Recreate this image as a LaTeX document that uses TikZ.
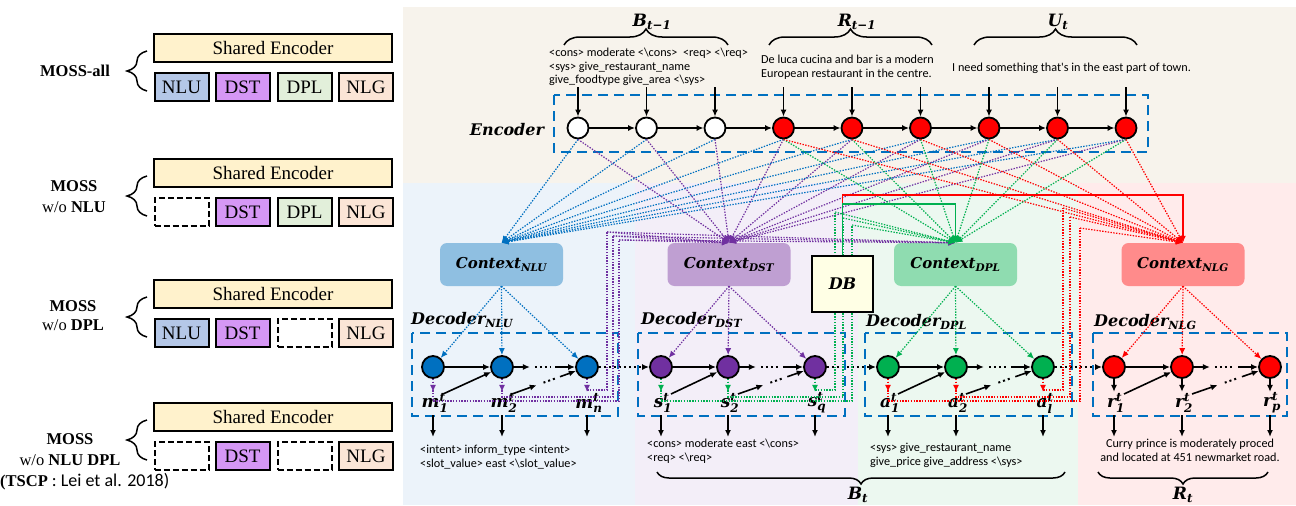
\RequirePackage{fix-cm}
\documentclass[tikz,border=0pt]{standalone}
\usepackage{amsmath}
\usepackage{fontspec}
\setmainfont{Liberation Serif}
\newfontfamily\smallsans{Carlito}
\newfontfamily\heavyserif{DejaVu Serif}
\newcommand\bi[1]{\text{\heavyserif\bfseries\itshape #1}}
\usetikzlibrary{arrows.meta,decorations.pathreplacing,calc}

\definecolor{encblue}{HTML}{0070C0}
\definecolor{dstpurple}{HTML}{7030A0}
\definecolor{dplgreen}{HTML}{00B050}
\definecolor{nlgred}{HTML}{FF0000}
\definecolor{shyellow}{HTML}{FFF2CC}
\definecolor{nlufill}{HTML}{B4C7E7}
\definecolor{dstfill}{HTML}{D597F5}
\definecolor{dplfill}{HTML}{E2EFDA}
\definecolor{nlgfill}{HTML}{FBE5D6}
\definecolor{bgtop}{HTML}{F7F3EC}
\definecolor{bgnlu}{HTML}{ECF3FA}
\definecolor{bgdst}{HTML}{F3EEF8}
\definecolor{bgdpl}{HTML}{ECF8F0}
\definecolor{bgnlg}{HTML}{FFEBEB}
\definecolor{ctxnlu}{HTML}{8FBFE1}
\definecolor{ctxdst}{HTML}{BF9FD2}
\definecolor{ctxdpl}{HTML}{8FDCB0}
\definecolor{ctxnlg}{HTML}{FF8B8B}
\definecolor{dbfill}{HTML}{FFFFE5}

\begin{document}
\begin{tikzpicture}[x=1pt,y=-1pt,
    modbox/.style={draw,line width=2pt,minimum width=54pt,minimum height=28pt,inner sep=0pt,font=\fontsize{19}{22}\selectfont},
    nlubox/.style={modbox,fill=nlufill},
    dplbox/.style={modbox,fill=dplfill},
    emptybox/.style={modbox,dash pattern=on 6pt off 3pt},
    encbox/.style={modbox,minimum width=238pt,fill=shyellow},
    enc/.style={circle,draw,line width=1.8pt,minimum size=21pt,inner sep=0pt},
    dec/.style={circle,draw,line width=1.8pt,minimum size=22pt,inner sep=0pt},
    ctx/.style={rounded corners=7pt,minimum width=123pt,minimum height=43pt,font=\fontsize{15}{18}\selectfont},
    mathlab/.style={font=\fontsize{16}{19}\selectfont,inner sep=1pt},
    outlab/.style={font=\fontsize{17}{20}\selectfont,inner sep=1pt},
    frame/.style={draw=encblue,line width=2.3pt,dash pattern=on 10pt off 6pt},
    link/.style={line width=1.2pt,dash pattern=on 1.4pt off 1.4pt,-{Latex[length=7pt,width=6pt]}},
    route/.style={line width=1.2pt,dash pattern=on 1.4pt off 1.4pt},
    flow/.style={line width=1.6pt,-{Latex[length=7pt,width=6pt]}},
    hop/.style={line width=2pt,dash pattern=on 2pt off 3pt,-{Latex[length=7pt,width=6pt]}},
    outnlu/.style={link,dstpurple},
    outdst/.style={link,dplgreen},
    outdpl/.style={link,nlgred},
    outnlg/.style={flow},
    note/.style={font=\smallsans\fontsize{12.2}{13.8}\selectfont,align=left,inner sep=0pt},
    lbrace/.style={decorate,decoration={brace,amplitude=#1},line width=1.5pt},
  ]
  \useasboundingbox (0,0) rectangle (1296,506);

  % backgrounds
  \fill[bgtop] (403,7) rectangle (1296,183);
  \fill[bgnlu] (403,183) rectangle (635,505);
  \fill[bgdst] (635,183) rectangle (858,505);
  \fill[bgdpl] (858,183) rectangle (1078,505);
  \fill[bgnlg] (1078,183) rectangle (1296,505);

  % left panel: the four variants
  \foreach \i/\yt/\ua/\ta/\pa/\tp in {1/33/nlubox/NLU/dplbox/DPL, 2/158/emptybox/{}/dplbox/DPL, 3/279/nlubox/NLU/emptybox/{}, 4/402/emptybox/{}/emptybox/{}} {
    \node[encbox] (shared\i) at (273,\yt+15) {Shared Encoder};
    \node[\ua] (nlu\i) at (181.5,\yt+54) {\ta};
    \node[modbox,fill=dstfill] (dst\i) at (242.5,\yt+54) {DST};
    \node[\pa] (dpl\i) at (304.5,\yt+54) {\tp};
    \node[modbox,fill=nlgfill] (nlg\i) at (366,\yt+54) {NLG};
    \draw[lbrace=20pt] (147,\yt+58) -- (147,\yt+18);
  }
  \node[font=\bfseries\fontsize{16.5}{19}\selectfont] (name1) at (75,71) {MOSS-all};
  \node[align=center,font=\fontsize{16.5}{21}\selectfont] (name2) at (74,197) {\textbf{MOSS}\\w/o \textbf{NLU}};
  \node[align=center,font=\fontsize{16.5}{19}\selectfont] (name3) at (73,316) {\textbf{MOSS}\\w/o \textbf{DPL}};
  \node[align=center,font=\fontsize{16.5}{21}\selectfont] (name4) at (70,450) {\textbf{MOSS}\\w/o \textbf{NLU DPL}};
  \node[anchor=west,inner sep=0pt,font=\fontsize{16.5}{19}\selectfont] (tscp) at (0,482) {\textbf{(TSCP} {\smallsans\fontsize{18}{20}\selectfont : Lei et al. 2018)}};

  % encoder
  \draw[frame] (554,95) rectangle (1148,152);
  \node[mathlab] (enclab) at (507,130) {$\bi{Encoder}$};
  \foreach \i in {1,...,9} {
    \pgfmathsetmacro\ex{578+68.5*(\i-1)}
    \ifnum\i<4 \def\ef{white}\else\def\ef{red}\fi
    \coordinate (in\i) at (\ex,87);
    \node[enc,fill=\ef] (e\i) at (\ex,128) {};
  }

  % encoder inputs
  \draw[lbrace=16pt] (564,45) -- (728,45);
  \node[outlab] (bprev) at (652,22) {$\bi{B}_{\bi{t−1}}$};
  \draw[lbrace=16pt] (769,45) -- (932,45);
  \node[outlab] (rprev) at (857,22) {$\bi{R}_{\bi{t−1}}$};
  \draw[lbrace=16pt] (974,45) -- (1137,45);
  \node[outlab] (ucur) at (1058,22) {$\bi{U}_{\bi{t}}$};
  \node[note,anchor=west] (btext) at (549,67) {<cons> moderate <\textbackslash cons>\ \ <req> <\textbackslash req>\\<sys> give\_restaurant\_name\\give\_foodtype give\_area <\textbackslash sys>};
  \node[note,anchor=west] (rtext) at (761,67.5) {De luca cucina and bar is a modern\\European restaurant in the centre.};
  \node[note,anchor=west] (utext) at (952,68) {I need something that's in the east part of town.};

  % context boxes
  \node[ctx,fill=ctxnlu] (cnlu) at (501.5,264.5) {$\bi{Context}_{\bi{NLU}}$};
  \node[ctx,fill=ctxdst] (cdst) at (729,264.5) {$\bi{Context}_{\bi{DST}}$};
  \node[ctx,fill=ctxdpl] (cdpl) at (955.5,264.5) {$\bi{Context}_{\bi{DPL}}$};
  \node[ctx,fill=ctxnlg] (cnlg) at (1183,264.5) {$\bi{Context}_{\bi{NLG}}$};

  % encoder -> contexts
  \foreach \i in {1,...,9} {
    \draw[link,encblue] (e\i.south) -- (cnlu.north);
    \draw[link,dstpurple] (e\i.south) -- (cdst.north);
  }
  \foreach \i in {4,...,9} {
    \draw[link,dplgreen] (e\i.south) -- (cdpl.north);
    \draw[link,nlgred] (e\i.south) -- (cnlg.north);
  }
  \foreach \i in {1,...,9} {
    \draw[flow] (in\i) -- (e\i);
  }
  \foreach \i [count=\j from 2] in {1,...,8} {
    \draw[flow] (e\i) -- (e\j);
  }

  % decoders
  \draw[frame] (412,333) rectangle (618,416);
  \draw[frame] (638,333) rectangle (845,416);
  \draw[frame] (865,333) rectangle (1072,416);
  \draw[frame] (1093,333) rectangle (1287,416);
  \node[mathlab,anchor=west] (dlnlu) at (410,320) {$\bi{Decoder}_{\bi{NLU}}$};
  \node[mathlab,anchor=west] (dldst) at (640,320) {$\bi{Decoder}_{\bi{DST}}$};
  \node[mathlab,anchor=west] (dldpl) at (865,322) {$\bi{Decoder}_{\bi{DPL}}$};
  \node[mathlab,anchor=west] (dlnlg) at (1093,322) {$\bi{Decoder}_{\bi{NLG}}$};

  \foreach \k/\xa/\xb/\xc/\col/\sym/\last in {nlu/433/502/587/encblue/m/n, dst/661/728/815/dstpurple/s/q, dpl/888/956/1043/dplgreen/a/l, nlg/1114/1182/1270/nlgred/r/p} {
    \node[dec,fill=\col] (\k1) at (\xa,367) {};
    \node[dec,fill=\col] (\k2) at (\xb,367) {};
    \node[dec,fill=\col] (\k3) at (\xc,367) {};
    \draw[link,\col] (c\k.south) -- (\k1);
    \draw[link,\col] (c\k.south) -- (\k2);
    \draw[link,\col] (c\k.south) -- (\k3);
    \draw[out\k] (\k1.south) -- ++(0,13);
    \draw[out\k] (\k2.south) -- ++(0,13);
    \draw[out\k] (\k3.south) -- ++(0,13);
    \node[outlab] (\k o1) at (\xa+2,403) {$\bi{\sym}^{\bi{t}}_{\bi{1}}$};
    \node[outlab] (\k o2) at (\xb+2,403) {$\bi{\sym}^{\bi{t}}_{\bi{2}}$};
    \node[outlab] (\k o3) at (\xc+2,403) {$\bi{\sym}^{\bi{t}}_{\bi{\last}}$};
    \draw[flow] ($(\k1)+(0,48)$) -- ($(\k1)+(0,70)$);
    \draw[flow] ($(\k2)+(0,48)$) -- ($(\k2)+(0,70)$);
    \draw[flow] ($(\k3)+(0,48)$) -- ($(\k3)+(0,70)$);
    % chain
    \draw[flow] (\k1) -- (\k2);
    \draw[flow] (\k2.east) -- ++(16,0) coordinate (\k d1);
    \draw[line width=2pt,dash pattern=on 2pt off 3pt] ($(\k d1)+(5,0)$) -- ($(\k3.west)+(-24,0)$);
    \draw[flow] ($(\k3.west)+(-20,0)$) -- (\k3.west);
    % feedback from outputs
    \coordinate (\k f1) at ($(\k1)+(10,27)$);
    \coordinate (\k f2) at ($(\k2)+(10,27)$);
    \draw[flow] (\k f1) -- (\k2);
    \draw[flow] (\k f2) -- ($(\k f2)!0.33!(\k3)$);
    \draw[line width=2pt,dash pattern=on 2pt off 3pt] ($(\k f2)!0.42!(\k3)$) -- ($(\k f2)!0.58!(\k3)$);
    \draw[flow] ($(\k f2)!0.64!(\k3)$) -- (\k3);
  }
  \draw[hop] (nlu3) -- (dst1);
  \draw[hop] (dst3) -- (dpl1);
  \draw[hop] (dpl3) -- (nlg1);

  % NLU outputs -> DST and DPL contexts
  \foreach \n/\yb/\xv/\yv in {1/401/619/240, 2/397/613/236, 3/390/607/232} {
    \coordinate (mu\n) at (\xv,\yv);
    \draw[route,dstpurple] (nlu\n.south) |- (\xv,\yb) -- (mu\n);
    \draw[link,dstpurple] (mu\n) -- (cdst.north);
    \draw[link,dstpurple] (mu\n) -- (cdpl.north);
  }
  % DST outputs -> DPL context
  \foreach \n/\yb/\xv/\yv in {1/401/852/225, 2/397/843/218, 3/390/835/212} {
    \coordinate (su\n) at (\xv,\yv);
    \draw[route,dplgreen] (dst\n.south) |- (\xv,\yb) -- (su\n);
    \draw[link,dplgreen] (su\n) -- (cdpl.north);
  }
  % DPL outputs -> NLG context
  \foreach \n/\yb/\xv/\yv in {1/401/1080/228, 2/397/1070/217, 3/390/1063/208} {
    \coordinate (au\n) at (\xv,\yv);
    \draw[route,nlgred] (dpl\n.south) |- (\xv,\yb) -- (au\n);
    \draw[link,nlgred] (au\n) -- (cnlg.north);
  }

  % database
  \node[draw,line width=2pt,fill=dbfill,minimum width=61pt,minimum height=56pt,font=\fontsize{16}{19}\selectfont] (db) at (842.5,284) {$\bi{DB}$};
  \draw[flow,nlgred] (db.north) |- ($(cnlg.north)+(0,-48)$) -- (cnlg.north);
  \draw[flow,dplgreen] (db.north) |- ($(cdpl.north)+(0,-39)$) -- (cdpl.north);

  % outputs
  \node[note,anchor=west] (onlu) at (420,457) {<intent> inform\_type <intent>\\<slot\_value> east <\textbackslash slot\_value>};
  \node[note,anchor=west] (odst) at (647,451) {<cons> moderate east <\textbackslash cons>\\<req> <\textbackslash req>};
  \node[note,anchor=west] (odpl) at (870,455) {<sys> give\_restaurant\_name\\give\_price give\_address <\textbackslash sys>};
  \node[note,align=center] (onlg) at (1190,450) {Curry prince is moderately proced\\and located at 451 newmarket road.};

  \draw[lbrace=12pt] (1065,472) -- (657,472);
  \node[outlab] (bcur) at (858,495) {$\bi{B}_{\bi{t}}$};
  \draw[lbrace=12pt] (1268,472) -- (1098,472);
  \node[outlab] (rcur) at (1183,495) {$\bi{R}_{\bi{t}}$};
\end{tikzpicture}
\end{document}
